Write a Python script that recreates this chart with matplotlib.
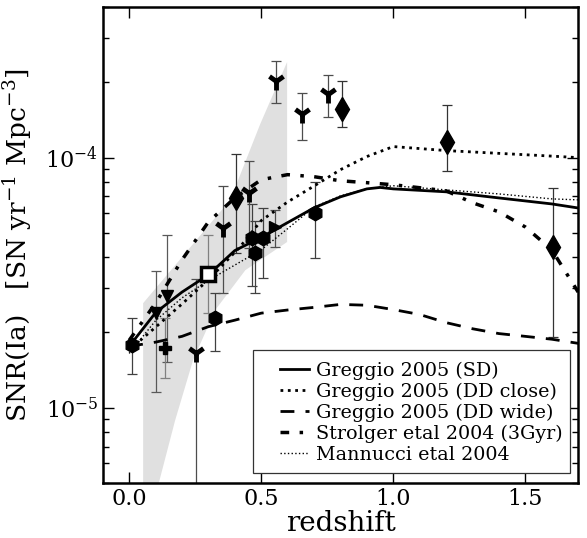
import numpy as np
import matplotlib
matplotlib.use("Agg")
import matplotlib.pyplot as plt
from matplotlib.patches import Rectangle

plt.rcParams['font.family'] = ['DejaVu Serif']
plt.rcParams['mathtext.fontset'] = 'dejavuserif'

# ---- model curves ----
z_sd = [0.0, 0.1, 0.2, 0.3, 0.4, 0.5, 0.6, 0.7, 0.8, 0.9, 0.95, 1.0, 1.2, 1.4, 1.6, 1.7]
sd = [1.76e-5, 2.4e-5, 2.9e-5, 3.4e-5, 4.25e-5, 4.8e-5, 5.5e-5, 6.3e-5, 6.97e-5, 7.5e-5, 7.6e-5, 7.5e-5, 7.3e-5, 6.9e-5, 6.53e-5, 6.29e-5]

z_ddc = [0.0, 0.1, 0.2, 0.3, 0.42, 0.5, 0.6, 0.7, 0.8, 0.9, 1.0, 1.1, 1.2, 1.4, 1.6, 1.7]
ddc = [1.7e-5, 2.1e-5, 2.6e-5, 3.25e-5, 4.4e-5, 5.6e-5, 6.65e-5, 7.7e-5, 8.95e-5, 1.01e-4, 1.107e-4, 1.087e-4, 1.067e-4, 1.04e-4, 1.014e-4, 1.0e-4]

z_ddw = [0.0, 0.1, 0.2, 0.3, 0.4, 0.5, 0.6, 0.7, 0.8, 0.9, 1.0, 1.1, 1.2, 1.3, 1.4, 1.5, 1.6, 1.7]
ddw = [1.76e-5, 1.83e-5, 1.93e-5, 2.11e-5, 2.24e-5, 2.39e-5, 2.46e-5, 2.52e-5, 2.59e-5, 2.57e-5, 2.47e-5, 2.36e-5, 2.19e-5, 2.07e-5, 1.98e-5, 1.93e-5, 1.88e-5, 1.81e-5]

z_str = [0.0, 0.1, 0.2, 0.3, 0.4, 0.5, 0.6, 0.7, 0.8, 0.9, 1.0, 1.1, 1.2, 1.3, 1.4, 1.5, 1.6, 1.7]
strol = [1.86e-5, 2.62e-5, 3.9e-5, 5.53e-5, 6.9e-5, 8.16e-5, 8.55e-5, 8.39e-5, 8.08e-5, 7.94e-5, 7.79e-5, 7.58e-5, 7.37e-5, 6.6e-5, 6.07e-5, 5.28e-5, 4.28e-5, 2.9e-5]

z_man = [0.0, 0.1, 0.2, 0.3, 0.4, 0.5, 0.6, 0.7, 0.8, 0.9, 1.0, 1.2, 1.4, 1.6, 1.7]
man = [1.65e-5, 2.23e-5, 2.75e-5, 3.23e-5, 3.72e-5, 4.28e-5, 5.2e-5, 6.35e-5, 7.03e-5, 7.5e-5, 7.72e-5, 7.43e-5, 7.16e-5, 6.84e-5, 6.78e-5]

# ---- shaded band ----
band_up_z = [0.053, 0.383, 0.496, 0.598]
band_up = [2.62e-5, 6.78e-5, 1.36e-4, 2.41e-4]
band_lo_z = [0.053, 0.11, 0.174, 0.242, 0.326, 0.44, 0.598]
band_lo = [2.5e-6, 4.9e-6, 8.9e-6, 1.55e-5, 2.46e-5, 3.55e-5, 4.6e-5]

# ---- measurements: z, rate, upper end, lower end ----
hex_z = [0.01, 0.326, 0.465, 0.508, 0.477, 0.705]
hex_r = [1.78e-5, 2.28e-5, 4.78e-5, 4.78e-5, 4.15e-5, 6.0e-5]
hex_hi = [2.28e-5, 2.87e-5, 6.53e-5, 6.29e-5, 5.6e-5, 8.0e-5]
hex_lo = [1.36e-5, 1.68e-5, 3.06e-5, 3.3e-5, 2.87e-5, 3.97e-5]

tri_z = [0.10, 0.145]
tri_r = [2.39e-5, 2.79e-5]
tri_hi = [3.52e-5, 4.91e-5]
tri_lo = [1.16e-5, 1.52e-5]

rtri_z = [0.553]
rtri_r = [5.28e-5]
rtri_hi = [6.18e-5]
rtri_lo = [4.39e-5]

plus_z = [0.137]
plus_r = [1.73e-5]
plus_hi = [2.28e-5]
plus_lo = [1.31e-5]

sq_z = [0.30]
sq_r = [3.42e-5]
sq_hi = [4.91e-5]
sq_lo = [2.4e-5]

y_z = [0.254, 0.355, 0.455, 0.557, 0.655, 0.754]
y_r = [1.66e-5, 5.23e-5, 7.23e-5, 2.02e-4, 1.49e-4, 1.79e-4]
y_hi = [3.27e-5, 7.72e-5, 9.73e-5, 2.43e-4, 1.81e-4, 2.13e-4]
y_lo = [1e-7, 2.87e-5, 4.35e-5, 1.66e-4, 1.18e-4, 1.45e-4]

dia_z = [0.405, 0.807, 1.205, 1.606]
dia_r = [6.9e-5, 1.57e-4, 1.15e-4, 4.39e-5]
dia_hi = [1.03e-4, 2.02e-4, 1.63e-4, 7.58e-5]
dia_lo = [4.15e-5, 1.32e-4, 8.87e-5, 1.91e-5]

fig = plt.figure(figsize=(5.87, 5.38), dpi=100)
ax = fig.add_axes([0.175, 0.102, 0.81, 0.885])
ax.set_yscale('log')

ax.fill(band_up_z + band_lo_z[::-1], band_up + band_lo[::-1], color='0.88', lw=0, zorder=0)


def errpoints(z, r, hi, lo, marker, ms, ecolor, **kw):
    r = np.array(r)
    yerr = [r - np.array(lo), np.array(hi) - r]
    ax.errorbar(z, r, yerr=yerr, fmt='none', ecolor=ecolor,
                elinewidth=0.9, capsize=3.5, capthick=0.9, zorder=2)
    ax.plot(z, r, marker, ms=ms, color='k', zorder=5, **kw)


errpoints(hex_z, hex_r, hex_hi, hex_lo, 'h', 10.5, '0.25')
errpoints(tri_z, tri_r, tri_hi, tri_lo, 'v', 9, '0.35')
errpoints(rtri_z, rtri_r, rtri_hi, rtri_lo, '>', 9, '0.3')
errpoints(plus_z, plus_r, plus_hi, plus_lo, 'P', 8, '0.5')
errpoints(sq_z, sq_r, sq_hi, sq_lo, 's', 10, '0.5', mfc='white', mec='k', mew=2.5)
errpoints(y_z, y_r, y_hi, y_lo, '1', 13, '0.3', mew=3.5)
errpoints(dia_z, dia_r, dia_hi, dia_lo, 'd', 12, '0.2')

ax.plot(z_sd, sd, '-', color='k', lw=2, label='Greggio 2005 (SD)', zorder=4)
ax.plot(z_ddc, ddc, ':', color='k', lw=2, label='Greggio 2005 (DD close)', zorder=4)
ax.plot(z_ddw, ddw, '--', color='k', lw=2, dashes=(5, 4), label='Greggio 2005 (DD wide)', zorder=4)
ax.plot(z_str, strol, color='k', lw=2.5, dashes=(2.5, 3, 1, 3), label='Strolger etal 2004 (3Gyr)', zorder=4)
ax.plot(z_man, man, ':', color='k', lw=1, label='Mannucci etal 2004', zorder=4)

ax.set_xlim(-0.1, 1.7)
ax.set_ylim(5e-6, 4e-4)
ax.set_xticks([0.0, 0.5, 1.0, 1.5])
ax.set_xticklabels(['0.0', '0.5', '1.0', '1.5'])
ax.tick_params(which='both', direction='in', top=True, right=True, labelsize=16)
ax.tick_params(which='major', length=8, width=1)
ax.tick_params(which='minor', length=4, width=1)
for s in ax.spines.values():
    s.set_linewidth(1.8)

ax.set_xlabel('redshift', fontsize=20, labelpad=0)
ax.set_ylabel(r'SNR(Ia)   [SN yr$^{-1}$ Mpc$^{-3}$]', fontsize=19, labelpad=8)

# legend box drawn by hand, it is wider than the text block
ax.add_patch(Rectangle((0.316, 0.021), 0.667, 0.258, transform=ax.transAxes,
                       fill=True, fc='white', ec='0.2', lw=0.9, zorder=6))
leg = ax.legend(loc='center left', bbox_to_anchor=(0.373, 0.148), fontsize=13.8,
                frameon=False, handlelength=1.5, handletextpad=0.4,
                borderpad=0, borderaxespad=0, labelspacing=0.15)
leg.set_zorder(7)

fig.savefig('out.png', dpi=100)
